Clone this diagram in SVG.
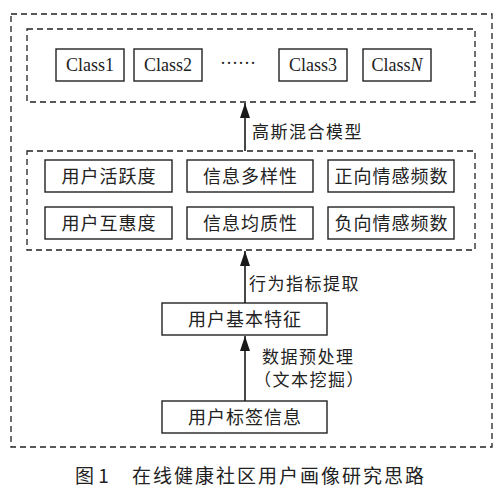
<svg xmlns="http://www.w3.org/2000/svg" width="500" height="496" viewBox="0 0 500 496">
<defs>
<marker id="ah" markerWidth="15" markerHeight="10" refX="15" refY="5" orient="auto" markerUnits="userSpaceOnUse" viewBox="0 0 15 10">
<path d="M0,0 L15,5 L0,10 Z" fill="#1a1a1a"/>
</marker>
<style>
.dash{fill:none;stroke:#222;stroke-width:1.3;stroke-dasharray:6 4}
.box{fill:#fff;stroke:#222;stroke-width:1.4}
.en{font-family:"Liberation Serif",serif;font-size:18px;fill:#222;text-anchor:middle}
.zh{font-family:"Noto Sans CJK SC",sans-serif;font-size:18px;letter-spacing:1px;fill:#222;text-anchor:middle}
.lbl{font-family:"Noto Sans CJK SC",sans-serif;font-size:17px;letter-spacing:1.5px;fill:#222}
.cap{font-family:"Noto Sans CJK SC",sans-serif;font-size:19px;fill:#222}
.conn{stroke:#1a1a1a;stroke-width:1.6;fill:none}
</style>
</defs>
<rect width="500" height="496" fill="#fff"/>
<rect id="outer" class="dash" x="11" y="14" width="481" height="433"/>
<g id="classes">
<rect class="dash" x="27" y="29" width="448" height="73"/>
<g id="class1"><rect class="box" x="56" y="49" width="68" height="32"/><text class="en" x="90" y="71">Class1</text></g>
<g id="class2"><rect class="box" x="134" y="49" width="68" height="32"/><text class="en" x="168" y="71">Class2</text></g>
<g id="dots"><text class="en" x="238" y="69">······</text></g>
<g id="class3"><rect class="box" x="279" y="49" width="68" height="32"/><text class="en" x="313" y="71">Class3</text></g>
<g id="classN"><rect class="box" x="363" y="49" width="68" height="32"/><text class="en" x="397" y="71">Class<tspan font-style="italic">N</tspan></text></g>
</g>
<g id="indicators">
<rect class="dash" x="27" y="151" width="448" height="99"/>
<g id="n1"><rect class="box" x="45" y="160" width="127" height="32"/><text class="zh" x="109" y="182.5">用户活跃度</text></g>
<g id="n2"><rect class="box" x="187" y="160" width="126" height="32"/><text class="zh" x="250.5" y="182.5">信息多样性</text></g>
<g id="n3"><rect class="box" x="328" y="160" width="126" height="32"/><text class="zh" x="391.5" y="182.5">正向情感频数</text></g>
<g id="n4"><rect class="box" x="45" y="207" width="127" height="32"/><text class="zh" x="109" y="229.5">用户互惠度</text></g>
<g id="n5"><rect class="box" x="187" y="207" width="126" height="32"/><text class="zh" x="250.5" y="229.5">信息均质性</text></g>
<g id="n6"><rect class="box" x="328" y="207" width="126" height="32"/><text class="zh" x="391.5" y="229.5">负向情感频数</text></g>
</g>
<g id="basic"><rect class="box" x="162" y="303" width="165" height="32"/><text class="zh" x="245" y="325.5">用户基本特征</text></g>
<g id="tags"><rect class="box" x="162" y="401" width="165" height="32"/><text class="zh" x="245" y="423.5">用户标签信息</text></g>
<g id="connectors">
<line class="conn" x1="245" y1="151" x2="245" y2="103" marker-end="url(#ah)"/>
<line class="conn" x1="245" y1="303" x2="245" y2="251" marker-end="url(#ah)"/>
<line class="conn" x1="245" y1="401" x2="245" y2="336" marker-end="url(#ah)"/>
<text class="lbl" x="252" y="138">高斯混合模型</text>
<text class="lbl" x="249" y="290">行为指标提取</text>
<text class="lbl" x="262" y="363">数据预处理</text>
<text class="lbl" x="254" y="386" letter-spacing="0.5">（文本挖掘）</text>
</g>
<text class="cap" x="75" y="483">图 1</text>
<text class="cap" x="132" y="483" letter-spacing="2">在线健康社区用户画像研究思路</text>
</svg>
